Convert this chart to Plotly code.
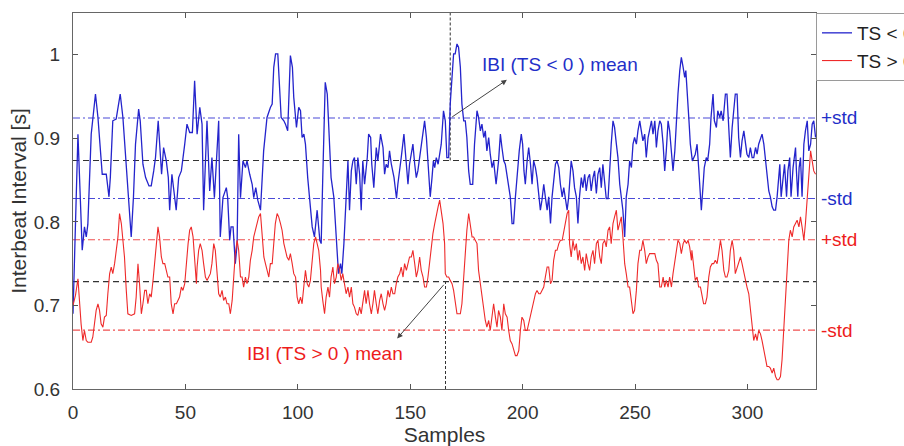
import plotly.graph_objects as go

# ---------------- data ----------------
blue_x = [0, 2.2, 4.1, 5.1, 5.9, 6.6, 8.1, 8.8, 10.0, 11.1, 11.8, 13.0, 14.8, 16.0, 16.6, 17.7, 19.2, 21.0, 22.2, 23.7,
          24.9, 25.9, 26.9, 27.8, 29.2, 29.9, 31.1, 32.3, 33.8, 34.8, 35.9, 36.7, 37.9, 38.8, 39.4, 40.3, 41.5, 42.4, 43.0, 44.0,
          44.8, 45.9, 47.0, 48.2, 49.7, 50.7, 51.9, 53.1, 54.1, 55.2,
          56.4, 57.4, 58.1, 59.6, 60.8, 61.8, 62.9, 64.8, 65.5, 66.7, 68.2, 68.8, 69.7, 70.3, 71.2, 72.2, 73.0, 73.7, 74.5, 75.6,
          76.7, 77.4, 78.6, 79.7, 80.4, 81.3, 82.2, 83.4, 84.8, 86.3, 87.8, 88.6, 89.3, 90.1, 91.1, 92.0, 92.6, 93.8, 94.5, 95.5,
          96.7, 97.6, 98.2, 99.4, 100.4, 101.2, 101.9, 102.7, 103.4, 104.4, 105.3, 106.4, 107.4, 108.6, 109.8,
          110.4, 111.1, 112.2, 113.1, 114.1, 114.8, 116.0, 117.1, 118.1, 119.0, 119.6, 120.5, 121.5, 122.3, 123.0, 123.8, 124.5,
          125.2, 126.0, 126.7, 127.5, 128.2, 128.9, 129.7, 130.9, 131.5, 132.4, 132.9, 133.8, 134.9, 135.6, 136.8, 137.9, 138.6,
          139.3, 140.1, 140.8, 141.6, 142.8, 143.9, 144.5, 145.3, 146.0, 147.2, 148.3, 149.0, 149.7, 150.5, 151.2, 152.0, 152.7,
          153.4, 154.2, 155.2, 156.4, 157.2, 157.9, 158.9, 159.7, 160.3, 160.9, 161.6, 162.4, 163.1, 163.8,
          164.8, 165.6, 166.3, 167.1, 167.8, 168.6, 169.3, 170.0, 170.8, 171.5, 172.3, 173.0, 173.8, 174.5, 175.2, 176.0, 176.7,
          177.8, 178.6, 179.7, 180.4, 181.2, 181.9, 182.7, 183.4, 184.1, 184.9, 185.6, 186.4, 187.1, 188.2, 189.3, 190.1, 190.8,
          191.6, 192.3, 193.1, 193.8, 194.5, 195.3, 196.0, 196.8, 197.5, 198.5, 199.4, 200.0, 200.6, 201.2, 202.0, 202.7, 203.5,
          204.2, 204.9, 205.7, 206.4, 207.2, 207.9, 208.6, 209.4, 210.1, 210.9, 211.6, 212.4, 213.1, 213.8, 214.6, 215.3, 216.1,
          216.8, 217.6, 218.3, 219.0, 219.8, 220.5,
          220.9, 221.6, 222.4, 223.1, 223.9, 224.6, 225.3, 226.1, 226.8, 227.6, 228.3, 229.1, 229.8, 230.5, 231.3, 232.0, 232.8,
          233.5, 234.3, 235.0, 235.7, 236.5, 237.2, 238.0, 238.7, 239.4, 240.2, 240.9, 241.7, 242.4, 243.2, 243.9, 244.6, 245.4,
          246.1, 246.9, 247.6, 248.4, 249.1, 249.8, 250.6, 251.3, 252.1, 252.8, 253.5, 254.3, 255.0, 255.8, 256.5, 257.3, 258.0,
          258.8, 259.5, 260.2, 261.0, 261.7, 262.5, 263.2, 263.9, 264.7, 265.4, 266.2, 266.9, 267.7, 268.4, 269.1, 269.9, 270.6,
          271.4, 272.1, 272.6, 273.1, 274.0, 274.6, 275.5,
          276.8, 277.6, 278.3, 279.1, 279.5, 280.2, 280.8, 281.7, 282.3, 283.2, 283.8, 284.7, 285.3, 286.2, 286.8, 287.7, 288.3,
          289.2, 290.2, 290.9, 291.7, 292.4, 293.2, 293.9, 294.6, 295.4, 296.1, 296.9, 297.6, 298.4, 299.1, 299.8, 300.6, 301.3,
          302.1, 302.8, 303.6, 304.3, 305.0, 305.8, 306.5, 307.3, 308.0, 308.7, 309.5, 310.2, 311.0, 311.7, 312.5, 313.2, 313.9,
          314.4, 315.0, 315.9, 316.5, 317.4, 318.0, 318.8, 319.4, 320.3, 321.4, 321.8, 322.4, 323.0, 323.6, 324.3, 325.1, 325.8,
          326.6, 327.3, 328.1, 328.8, 329.5, 330.3]
blue_y = [0.690, 0.905, 0.766, 0.794, 0.782, 0.797, 0.905, 0.921, 0.953, 0.925, 0.897, 0.857, 0.857, 0.830, 0.853, 0.921, 0.923, 0.953, 0.925, 0.869,
          0.830, 0.782, 0.830, 0.893, 0.935, 0.921, 0.869, 0.853, 0.843, 0.843, 0.861, 0.877, 0.921, 0.881, 0.857, 0.889, 0.873, 0.853, 0.814, 0.857,
          0.837, 0.814, 0.853, 0.861, 0.893, 0.917, 0.907, 0.907, 0.969, 0.905,
          0.937, 0.917, 0.814, 0.921, 0.837, 0.877, 0.829, 0.921, 0.782, 0.829, 0.841, 0.829, 0.778, 0.794, 0.794, 0.750, 0.774, 0.905, 0.829, 0.873,
          0.865, 0.873, 0.857, 0.845, 0.829, 0.841, 0.826, 0.814, 0.885, 0.925, 0.937, 0.941, 0.985, 1.001, 1.001, 0.953, 0.925, 0.921, 0.917, 0.909,
          0.999, 0.985, 0.949, 0.913, 0.937, 0.933, 0.901, 0.905, 0.893, 0.853, 0.829, 0.794, 0.782, 0.814, 0.778,
          0.774, 0.853, 0.967, 0.953, 0.901, 0.853, 0.830, 0.774, 0.738, 0.750, 0.738, 0.774, 0.830, 0.873, 0.814, 0.861, 0.873,
          0.877, 0.845, 0.877, 0.857, 0.814, 0.873, 0.845, 0.877, 0.905, 0.901, 0.869, 0.841, 0.889, 0.873, 0.905, 0.889, 0.857,
          0.869, 0.865, 0.885, 0.869, 0.853, 0.828, 0.845, 0.867, 0.877, 0.905, 0.873, 0.845, 0.869, 0.885, 0.893, 0.869, 0.853,
          0.861, 0.877, 0.901, 0.921, 0.901, 0.873, 0.830, 0.853, 0.873, 0.865, 0.877, 0.869, 0.881, 0.893,
          0.933, 0.921, 0.877, 0.877, 0.941, 0.981, 1.001, 1.001, 1.013, 1.009, 0.985, 0.941, 0.921, 0.921, 0.901, 0.861, 0.845,
          0.845, 0.893, 0.933, 0.925, 0.909, 0.917, 0.901, 0.909, 0.885, 0.901, 0.881, 0.865, 0.873, 0.845, 0.873, 0.905, 0.889,
          0.873, 0.869, 0.853, 0.845, 0.830, 0.798, 0.798, 0.830, 0.857, 0.885, 0.905, 0.893, 0.861, 0.845, 0.873, 0.889, 0.869,
          0.845, 0.873, 0.865, 0.853, 0.830, 0.814, 0.826, 0.845, 0.830, 0.814, 0.830, 0.798, 0.830, 0.853, 0.869, 0.873, 0.865,
          0.845, 0.830, 0.841, 0.830, 0.814, 0.830,
          0.845, 0.873, 0.861, 0.841, 0.830, 0.798, 0.830, 0.853, 0.841, 0.857, 0.837, 0.853, 0.857, 0.837, 0.853, 0.861, 0.834,
          0.857, 0.865, 0.841, 0.869, 0.845, 0.828, 0.828, 0.865, 0.893, 0.921, 0.913, 0.893, 0.877, 0.845, 0.830, 0.814, 0.782,
          0.830, 0.845, 0.873, 0.865, 0.893, 0.901, 0.893, 0.909, 0.921, 0.909, 0.897, 0.905, 0.877, 0.901, 0.913, 0.921, 0.905,
          0.921, 0.889, 0.909, 0.921, 0.917, 0.893, 0.861, 0.885, 0.921, 0.909, 0.885, 0.861, 0.885, 0.925, 0.953, 0.981, 0.997,
          0.985, 0.973, 0.981, 0.953, 0.921, 0.893, 0.873,
          0.881, 0.893, 0.865, 0.822, 0.814, 0.841, 0.865, 0.877, 0.873, 0.893, 0.925, 0.953, 0.921, 0.913, 0.933, 0.925, 0.933,
          0.921, 0.953, 0.953, 0.901, 0.877, 0.913, 0.933, 0.953, 0.953, 0.901, 0.877, 0.897, 0.909, 0.893, 0.881, 0.877, 0.889,
          0.877, 0.877, 0.889, 0.881, 0.893, 0.901, 0.905, 0.893, 0.873, 0.853, 0.837, 0.830, 0.818, 0.814, 0.814, 0.830, 0.861,
          0.869, 0.830, 0.853, 0.869, 0.830, 0.861, 0.877, 0.830, 0.865, 0.889, 0.861, 0.830, 0.865, 0.877, 0.830, 0.893, 0.909,
          0.921, 0.885, 0.893, 0.917, 0.921, 0.901]

red_x = [0, 1.1, 2.2, 2.9, 3.6, 4.4, 5.1, 5.9, 6.6, 7.4, 8.1, 8.8, 9.6, 10.3, 11.1, 11.8, 12.5, 13.3, 14.0, 14.8, 15.5,
         16.3, 17.0, 17.7, 18.5, 19.2, 20.0, 20.7, 21.5, 22.2, 22.9, 23.7, 24.4, 25.9, 27.4, 28.1, 28.9, 29.6, 30.4, 31.1,
         31.9, 32.6, 33.3, 34.1, 34.8, 35.6, 36.3, 37.0, 37.8, 38.5, 39.3, 40.0, 40.8, 41.5, 42.2, 43.0, 43.7, 44.5, 45.2,
         46.0, 46.7, 47.4, 48.2, 48.9, 49.7, 50.4, 51.2, 51.9, 52.6, 53.4, 54.1, 54.9,
         55.2, 55.9, 56.6, 57.4, 58.1, 58.9, 59.6, 60.4, 61.1, 61.8, 62.6, 63.3, 64.1, 64.8, 65.5, 66.3, 67.0, 67.8, 68.5,
         69.3, 70.0, 70.8, 71.5, 72.2, 73.0, 73.7, 74.5, 75.2, 75.9, 76.7, 77.4, 78.2, 78.9, 79.7, 80.4, 81.1, 81.9, 82.6,
         83.4, 84.1, 84.9, 85.6, 86.3, 87.1, 87.8, 88.6, 89.3, 90.0, 90.8, 91.5, 92.3, 93.0, 93.8, 94.5, 95.2, 96.0, 96.7,
         97.5, 98.2, 99.0, 99.7, 100.4, 101.2, 101.9, 102.7, 103.4, 104.2, 104.9, 105.6, 106.4, 107.1, 107.9, 108.6, 109.3, 110.1,
         110.4, 111.1, 111.9, 112.6, 113.4, 114.1, 114.8, 115.6, 116.3, 117.1, 117.8, 118.6, 119.3, 120.0, 120.8, 121.5, 122.3,
         123.0, 123.8, 124.5, 125.2, 126.0, 126.7, 127.5, 128.2, 128.9, 129.7, 130.4, 131.2, 131.9, 132.7, 133.4, 134.1, 134.9,
         135.6, 136.4, 137.1, 137.9, 138.6, 139.3, 140.1, 140.8, 141.6, 142.3, 143.1, 143.8, 144.5, 145.3, 146.0, 146.8, 147.5,
         148.3, 149.0, 149.7, 150.5, 151.2, 152.0, 152.7, 153.4, 154.2, 154.9, 155.7, 156.4, 157.2, 157.9, 158.6, 159.4, 160.1,
         160.9, 161.6, 162.4, 163.1, 163.8, 164.6, 165.3,
         165.6, 166.3, 167.1, 167.8, 168.6, 169.3, 170.0, 170.8, 171.5, 172.3, 173.0, 173.8, 174.5, 175.2, 176.0, 176.7, 177.5,
         178.2, 179.0, 179.7, 180.4, 181.2, 181.9, 182.7, 183.4, 184.1, 184.9, 185.6, 186.4, 187.1, 187.9, 188.6, 189.3, 190.1,
         190.8, 191.6, 192.3, 193.1, 193.8, 194.5, 195.3, 196.0, 196.8, 197.5, 198.3, 199.0, 199.7, 200.5, 201.2, 202.0, 202.7,
         203.5, 204.2, 204.9, 205.7, 206.4, 207.2, 207.9, 208.6, 209.4, 210.1, 210.9, 211.6, 212.4, 213.1, 213.8, 214.6, 215.3,
         216.1, 216.8, 217.6, 218.3, 219.0, 219.8, 220.5,
         220.9, 221.6, 222.4, 223.1, 223.9, 224.6, 225.3, 226.1, 226.8, 227.6, 228.3, 229.1, 229.8, 230.5, 231.3, 232.0, 232.8,
         233.5, 234.3, 235.0, 235.7, 236.5, 237.2, 238.0, 238.7, 239.4, 240.2, 240.9, 241.7, 242.4, 243.2, 243.9, 244.6, 245.4,
         246.1, 246.9, 247.6, 248.4, 249.1, 249.8, 250.6, 251.3, 252.1, 252.8, 253.5, 254.3, 255.0, 255.8, 256.5, 257.3, 258.0,
         258.8, 259.5, 260.2, 261.0, 261.7, 262.5, 263.2, 263.9, 264.7, 265.4, 266.2, 266.9, 267.7, 268.4, 269.1, 269.9, 270.6,
         271.4, 272.1, 272.9, 273.6, 274.3, 275.1,
         275.3, 276.1, 276.8, 277.6, 278.3, 279.1, 279.8, 280.5, 281.3, 282.0, 282.8, 283.5, 284.3, 285.0, 285.7, 286.5, 287.2,
         288.0, 288.7, 289.5, 290.2, 290.9, 291.7, 292.4, 293.2, 293.9, 294.6, 295.4, 296.1, 296.9, 297.6, 298.4, 299.1, 299.8,
         300.6, 301.3, 302.1, 302.8, 303.6, 304.3, 305.0, 305.8, 306.5, 307.3, 308.0, 308.7, 309.5, 310.2, 311.0, 311.7, 312.5,
         313.2, 313.9, 314.7, 315.4, 316.2, 316.9, 317.7, 318.4, 319.1, 319.9, 320.6, 321.4, 322.1, 322.9, 323.6, 324.3, 325.1,
         325.8, 326.6, 327.3, 328.1, 328.8, 329.5, 330.3]
red_y = [0.700, 0.712, 0.732, 0.702, 0.678, 0.658, 0.670, 0.658, 0.656, 0.656, 0.656, 0.662, 0.678, 0.694, 0.702, 0.694, 0.678, 0.674, 0.686, 0.688, 0.714,
         0.738, 0.746, 0.738, 0.750, 0.766, 0.782, 0.810, 0.798, 0.778, 0.758, 0.718, 0.690, 0.688, 0.690, 0.710, 0.750, 0.726, 0.690, 0.702,
         0.718, 0.718, 0.702, 0.714, 0.710, 0.730, 0.750, 0.766, 0.794, 0.782, 0.758, 0.750, 0.750, 0.742, 0.734, 0.734, 0.702, 0.690, 0.702,
         0.702, 0.706, 0.710, 0.722, 0.718, 0.726, 0.750, 0.774, 0.790, 0.794, 0.782, 0.750, 0.726,
         0.746, 0.766, 0.774, 0.766, 0.750, 0.734, 0.730, 0.734, 0.738, 0.750, 0.774, 0.766, 0.734, 0.714, 0.710, 0.718, 0.706, 0.710, 0.702,
         0.702, 0.690, 0.706, 0.734, 0.762, 0.778, 0.766, 0.734, 0.734, 0.722, 0.734, 0.726, 0.734, 0.754, 0.766, 0.782, 0.790, 0.798, 0.806,
         0.810, 0.790, 0.758, 0.750, 0.742, 0.734, 0.750, 0.750, 0.774, 0.798, 0.810, 0.806, 0.798, 0.790, 0.774, 0.766, 0.758, 0.754, 0.762,
         0.750, 0.738, 0.734, 0.710, 0.702, 0.710, 0.702, 0.726, 0.742, 0.726, 0.722, 0.730, 0.758, 0.774, 0.782, 0.774, 0.766, 0.742,
         0.722, 0.706, 0.690, 0.710, 0.722, 0.710, 0.734, 0.746, 0.726, 0.734, 0.750, 0.742, 0.730, 0.738, 0.726, 0.714, 0.722,
         0.710, 0.722, 0.702, 0.698, 0.690, 0.688, 0.698, 0.690, 0.702, 0.718, 0.702, 0.718, 0.702, 0.690, 0.702, 0.718, 0.702,
         0.690, 0.706, 0.714, 0.702, 0.694, 0.702, 0.718, 0.710, 0.722, 0.714, 0.714, 0.726, 0.734, 0.738, 0.746, 0.734, 0.750,
         0.742, 0.750, 0.758, 0.758, 0.766, 0.750, 0.734, 0.742, 0.758, 0.742, 0.734, 0.722, 0.722, 0.734, 0.750, 0.774, 0.786,
         0.798, 0.810, 0.818, 0.826, 0.814, 0.798, 0.774,
         0.738, 0.734, 0.734, 0.730, 0.726, 0.718, 0.702, 0.690, 0.690, 0.690, 0.702, 0.734, 0.766, 0.790, 0.810, 0.798, 0.782,
         0.782, 0.778, 0.774, 0.742, 0.726, 0.710, 0.694, 0.682, 0.674, 0.682, 0.670, 0.690, 0.702, 0.686, 0.674, 0.694, 0.686,
         0.670, 0.702, 0.690, 0.686, 0.670, 0.658, 0.654, 0.646, 0.640, 0.640, 0.646, 0.670, 0.686, 0.682, 0.670, 0.670, 0.678,
         0.686, 0.694, 0.702, 0.714, 0.718, 0.714, 0.714, 0.718, 0.722, 0.734, 0.746, 0.746, 0.726, 0.730, 0.754, 0.766, 0.766,
         0.774, 0.778, 0.778, 0.790, 0.798, 0.810, 0.814,
         0.774, 0.758, 0.778, 0.766, 0.774, 0.754, 0.766, 0.750, 0.758, 0.742, 0.762, 0.750, 0.742, 0.758, 0.766, 0.750, 0.774,
         0.778, 0.758, 0.750, 0.774, 0.778, 0.770, 0.790, 0.794, 0.774, 0.798, 0.806, 0.814, 0.790, 0.798, 0.806, 0.782, 0.750,
         0.738, 0.722, 0.722, 0.702, 0.690, 0.694, 0.718, 0.750, 0.766, 0.766, 0.778, 0.766, 0.750, 0.758, 0.762, 0.762, 0.762,
         0.762, 0.754, 0.750, 0.722, 0.722, 0.734, 0.722, 0.730, 0.722, 0.734, 0.722, 0.738, 0.754, 0.766, 0.778, 0.774, 0.762,
         0.774, 0.778, 0.774, 0.778, 0.770, 0.754,
         0.766, 0.742, 0.730, 0.734, 0.722, 0.722, 0.710, 0.702, 0.702, 0.710, 0.734, 0.746, 0.750, 0.750, 0.754, 0.750, 0.762,
         0.778, 0.766, 0.742, 0.734, 0.734, 0.742, 0.766, 0.778, 0.766, 0.738, 0.746, 0.750, 0.758, 0.750, 0.738, 0.730, 0.722,
         0.714, 0.694, 0.674, 0.658, 0.666, 0.658, 0.670, 0.666, 0.658, 0.646, 0.635, 0.627, 0.627, 0.625, 0.619, 0.625, 0.615,
         0.611, 0.611, 0.615, 0.635, 0.670, 0.714, 0.750, 0.778, 0.790, 0.782, 0.794, 0.798, 0.802, 0.794, 0.806, 0.794, 0.778,
         0.798, 0.830, 0.861, 0.885, 0.873, 0.861, 0.857]

series_names = ["TS < 0", "TS > 0"]

blue_mean, blue_std_hi, blue_std_lo = 0.8735, 0.9244, 0.8280
red_mean, red_std_hi, red_std_lo = 0.7285, 0.7787, 0.6705
marker_x_top, marker_x_bottom = 167.8, 165.7

x_ticks = [0, 50, 100, 150, 200, 250, 300]
y_ticks = [0.6, 0.7, 0.8, 0.9, 1.0]
y_tick_text = ["0.6", "0.7", "0.8", "0.9", "1"]

X_MAX = 330.5
Y_MIN, Y_MAX = 0.6, 1.05

BLUE = "#2424cc"
RED = "#ee2a2a"
BLUE_TXT = "#1f2fc8"
RED_TXT = "#ee1c1c"
FONT = "Liberation Sans, Arial, sans-serif"

fig = go.Figure()

# reference lines (mean / ±std) as traces spanning the sample axis
def hline(y, color, dash, width=1.1):
    fig.add_trace(go.Scatter(x=[0, X_MAX], y=[y, y], mode="lines", showlegend=False, hoverinfo="skip",
                             line=dict(color=color, width=width, dash=dash)))

hline(blue_std_hi, "#4a4ad8", "7px,3px,2px,3px")
hline(blue_std_lo, "#4a4ad8", "7px,3px,2px,3px")
hline(red_std_hi, "#f05050", "7px,3px,2px,3px")
hline(red_std_lo, "#f05050", "7px,3px,2px,3px")
hline(blue_mean, "#333333", "6px,4px")
hline(red_mean, "#333333", "6px,4px")

# vertical marker lines
fig.add_trace(go.Scatter(x=[marker_x_top, marker_x_top], y=[blue_mean, Y_MAX], mode="lines", showlegend=False,
                         hoverinfo="skip", line=dict(color="#333333", width=1, dash="3px,2px")))
fig.add_trace(go.Scatter(x=[marker_x_bottom, marker_x_bottom], y=[Y_MIN, red_mean], mode="lines", showlegend=False,
                         hoverinfo="skip", line=dict(color="#333333", width=1, dash="3px,2px")))

# data series
fig.add_trace(go.Scatter(x=blue_x, y=blue_y, mode="lines", name=series_names[0],
                         line=dict(color=BLUE, width=1.3)))
fig.add_trace(go.Scatter(x=red_x, y=red_y, mode="lines", name=series_names[1],
                         line=dict(color=RED, width=1.1)))

annotations = [
    # arrows
    dict(x=193.0, y=0.970, ax=168.0, ay=blue_std_hi, xref="x", yref="y", axref="x", ayref="y",
         showarrow=True, arrowhead=2, arrowsize=1.1, arrowwidth=1, arrowcolor="#444444", text="", standoff=0, startstandoff=0),
    dict(x=144.2, y=0.6605, ax=165.5, ay=red_mean - 0.002, xref="x", yref="y", axref="x", ayref="y",
         showarrow=True, arrowhead=2, arrowsize=1.1, arrowwidth=1, arrowcolor="#444444", text="", standoff=0, startstandoff=0),
    # labels
    dict(x=181.0, y=0.988, xref="x", yref="y", text="IBI (TS < 0 ) mean", showarrow=False, xanchor="left",
         yanchor="middle", font=dict(size=19, color=BLUE_TXT, family=FONT)),
    dict(x=76.3, y=0.643, xref="x", yref="y", text="IBI (TS > 0 ) mean", showarrow=False, xanchor="left",
         yanchor="middle", font=dict(size=19, color=RED_TXT, family=FONT)),
]
for yv, txt, col in [(blue_std_hi, "+std", BLUE_TXT), (blue_std_lo, "-std", BLUE_TXT),
                     (red_std_hi, "+std", RED_TXT), (red_std_lo, "-std", RED_TXT)]:
    annotations.append(dict(x=1.004, y=yv, xref="paper", yref="y", text=txt, showarrow=False, xanchor="left",
                            yanchor="middle", font=dict(size=19, color=col, family=FONT)))

fig.update_layout(
    width=904, height=446,
    margin=dict(l=73, r=88, t=13, b=57, autoexpand=False),
    paper_bgcolor="white", plot_bgcolor="white",
    font=dict(family=FONT, size=19, color="#333333"),
    annotations=annotations,
    showlegend=True,
    legend=dict(x=1.0, y=1.0, xanchor="left", yanchor="top", bgcolor="white", bordercolor="#9a9a9a",
                borderwidth=1, font=dict(size=19, color="#222222", family=FONT), itemwidth=30,
                tracegroupgap=0),
)
fig.update_xaxes(range=[0, X_MAX], tickmode="array", tickvals=x_ticks, ticks="inside", ticklen=5,
                 tickcolor="#555555", showline=True, linecolor="#666666", linewidth=1, mirror="ticks",
                 showgrid=False, zeroline=False, tickfont=dict(size=19, color="#333333"), automargin=False,
                 title=dict(text="Samples", font=dict(size=21, color="#333333"), standoff=6),
                 ticklabelstandoff=6)
fig.update_yaxes(range=[Y_MIN, Y_MAX], tickmode="array", tickvals=y_ticks, ticktext=y_tick_text, ticks="inside",
                 ticklen=5, tickcolor="#555555", showline=True, linecolor="#666666", linewidth=1, mirror="ticks",
                 showgrid=False, zeroline=False, tickfont=dict(size=19, color="#333333"), automargin=False,
                 title=dict(text="Interbeat Interval [s]", font=dict(size=21, color="#333333"), standoff=1),
                 ticklabelstandoff=8)

fig.write_html("out.html", config={"displayModeBar": False},
               post_script="document.body.style.margin='0';document.body.style.padding='0';"
                           "document.documentElement.style.overflow='hidden';")
